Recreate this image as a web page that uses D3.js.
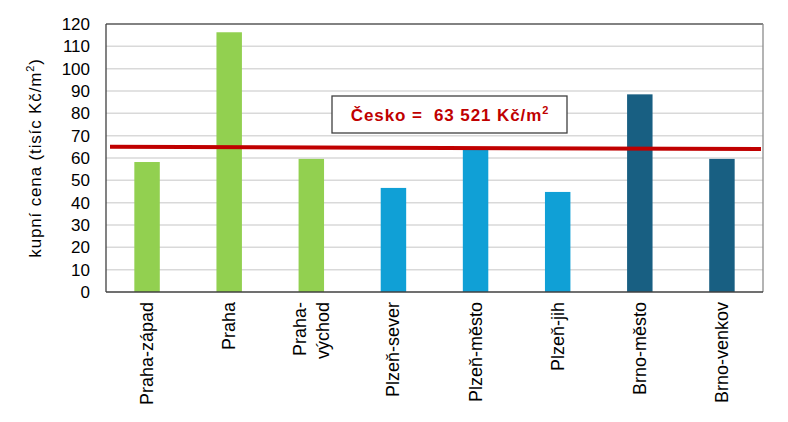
<!DOCTYPE html>
<html><head><meta charset="utf-8">
<script src="https://cdn.jsdelivr.net/npm/d3@7"></script>
<style>body{margin:0;background:#fff}svg{display:block;font-family:Arial,"Liberation Sans",sans-serif}</style>
</head><body><svg id="c" width="788" height="422"></svg>
<script>
const categories = ["Praha-západ","Praha","Praha-\nvýchod","Plzeň-sever","Plzeň-město","Plzeň-jih","Brno-město","Brno-venkov"];
const values = [58.2, 116.3, 59.6, 46.6, 64.0, 44.8, 88.5, 59.6];
const groups = ["g","g","g","b","b","b","d","d"];
const yTicks = [0,10,20,30,40,50,60,70,80,90,100,110,120];
const lineValues = [65.0, 64.0];
const yTitle = "kupní cena (tisíc Kč/m";
const boxLabel = "Česko =  63 521 Kč/m";

const colors = {g:"#92d050", b:"#10a0d6", d:"#185f82"};
const svg = d3.select("#c");
const m = {l:106, r:763, t:24, b:292};
const x = d3.scaleBand().domain(d3.range(categories.length)).range([m.l, m.r]).paddingInner(0.69).paddingOuter(0.345);
const y = d3.scaleLinear().domain([0,120]).range([m.b, m.t]);

// grid
svg.append("g").selectAll("line").data(yTicks.filter(d=>d>0&&d<120)).join("line")
  .attr("x1", m.l).attr("x2", m.r).attr("y1", d=>y(d)).attr("y2", d=>y(d))
  .attr("stroke","#d9d9d9").attr("stroke-width",1.5);

// bars
svg.append("g").selectAll("rect").data(values).join("rect")
  .attr("x",(d,i)=>x(i)).attr("width",x.bandwidth())
  .attr("y",d=>y(d)).attr("height",d=>y(0)-y(d))
  .attr("fill",(d,i)=>colors[groups[i]]);

// plot border
svg.append("line").attr("x1",m.l).attr("x2",m.r).attr("y1",m.t).attr("y2",m.t).attr("stroke","#595959").attr("stroke-width",1.3);
svg.append("line").attr("x1",m.r).attr("x2",m.r).attr("y1",m.t).attr("y2",m.b).attr("stroke","#8c8c8c").attr("stroke-width",1.3);
svg.append("line").attr("x1",m.l).attr("x2",m.l).attr("y1",m.t).attr("y2",m.b).attr("stroke","#404040").attr("stroke-width",1.3);
svg.append("line").attr("x1",m.l).attr("x2",m.r).attr("y1",m.b).attr("y2",m.b).attr("stroke","#404040").attr("stroke-width",1.3);

// red line
const lx = d3.scaleLinear().domain([0, lineValues.length-1]).range([m.l+4, m.r-2]);
svg.append("path").datum(lineValues)
  .attr("d", d3.line().x((d,i)=>lx(i)).y(d=>y(d)))
  .attr("stroke","#c00000").attr("stroke-width",4).attr("fill","none");

// y axis labels
const yAxis = d3.axisLeft(y).tickValues(yTicks).tickSize(0).tickPadding(16);
const ya = svg.append("g").attr("transform",`translate(${m.l},0)`).call(yAxis);
ya.select(".domain").remove();
ya.selectAll("text").attr("font-size",17).attr("fill","#000").attr("font-family","Arial,'Liberation Sans',sans-serif");

// y title
const yt = svg.append("text").attr("transform",`translate(41,${(m.t+m.b)/2}) rotate(-90)`)
  .attr("text-anchor","middle").attr("font-size",17).attr("letter-spacing",0.85).attr("fill","#000");
yt.append("tspan").text(yTitle);
yt.append("tspan").attr("font-size",11).attr("dy",-7).text("2");
yt.append("tspan").attr("dy",7).text(")");

// x labels
const xl = svg.append("g");
categories.forEach((c,i)=>{
  const lines = c.split("\n");
  const cx = x(i)+x.bandwidth()/2;
  const lh = 23;
  lines.forEach((ln,j)=>{
    const off = (j - (lines.length-1)/2)*lh;
    xl.append("text").attr("transform",`translate(${cx+off+6},302) rotate(-90)`)
      .attr("text-anchor","end").attr("font-size",18).attr("fill","#000").text(ln);
  });
});

// box
svg.append("rect").attr("x",332).attr("y",96).attr("width",235).attr("height",37)
  .attr("fill","#fff").attr("stroke","#404040").attr("stroke-width",1.3);
const bt = svg.append("text").attr("x",450).attr("y",121).attr("text-anchor","middle")
  .attr("font-size",17).attr("font-weight","bold").attr("letter-spacing",0.9).attr("fill","#c00000").attr("xml:space","preserve");
bt.append("tspan").text(boxLabel);
bt.append("tspan").attr("font-size",11).attr("dy",-7).text("2");
</script></body></html>
